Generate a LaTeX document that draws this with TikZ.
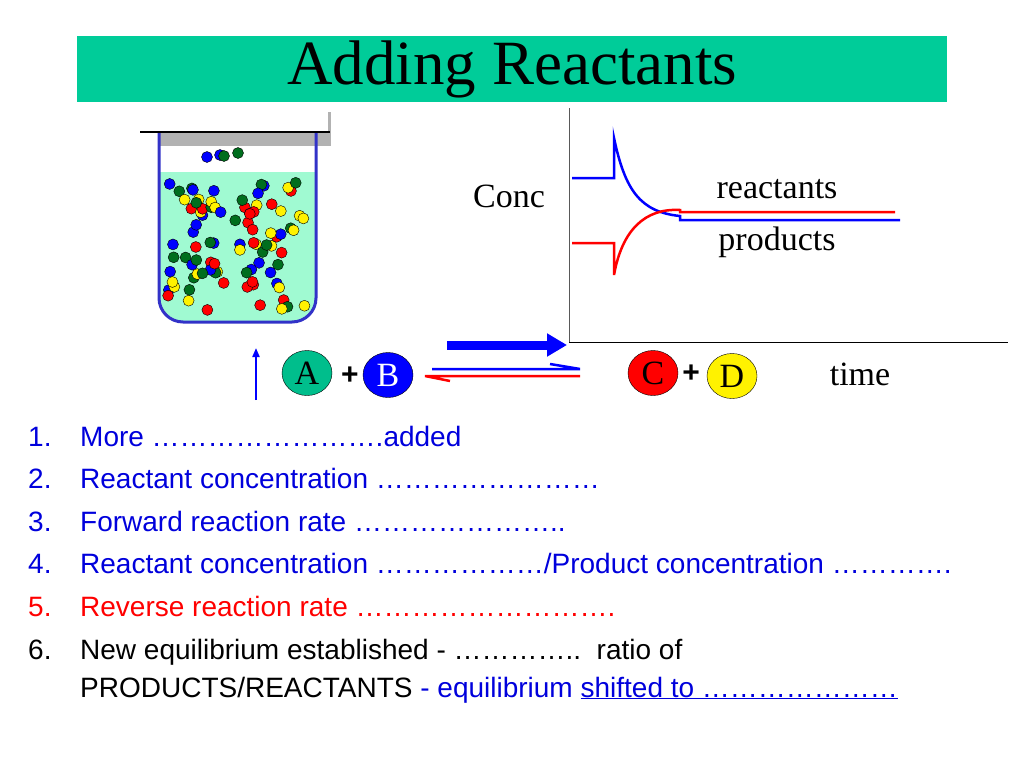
\documentclass[tikz,border=0pt]{standalone}
\usepackage{fontspec}
\setmainfont{Liberation Serif}
\newfontfamily\sans{Liberation Sans}
\usetikzlibrary{arrows.meta,shapes.geometric}
\definecolor{titlegreen}{RGB}{0,204,153}
\definecolor{liq}{RGB}{160,250,210}
\definecolor{bblue}{RGB}{50,50,200}
\definecolor{tblue}{RGB}{0,0,220}
\definecolor{dgreen}{RGB}{0,110,30}
\definecolor{agreen}{RGB}{0,190,140}
\tikzset{
  dot/.style={circle,draw=black,line width=0.4pt,inner sep=0pt,minimum size=11pt},
  item/.style={anchor=base west,font=\sans\fontsize{28}{32}\selectfont,text=tblue,inner sep=0pt},
  num/.style={anchor=base west,font=\sans\fontsize{28}{32}\selectfont,inner sep=0pt},
  mol/.style={ellipse,draw=black,inner sep=0pt,minimum width=50pt,minimum height=45pt,font=\fontsize{34}{36}\selectfont},
  lab/.style={font=\fontsize{34}{38}\selectfont,inner sep=0pt},
  plus/.style={font=\sans\bfseries\fontsize{30}{32}\selectfont}
}
\begin{document}
\begin{tikzpicture}[x=1pt,y=-1pt]
\useasboundingbox (0,0) rectangle (1024,768);
% title
\node[fill=titlegreen,minimum width=870pt,minimum height=66pt,inner sep=0pt,anchor=north west,
  font=\fontsize{63}{66}\selectfont] (title) at (77,36) {Adding Reactants};
% beaker
\fill[gray!60] (160,132) rectangle (330,146);
\draw[gray!60,line width=3pt] (329,112) -- (329,146);
\fill[liq] (159,172) rectangle (316,290);
\fill[liq,rounded corners=24pt] (159,250) rectangle (316,322);
\draw[bblue,line width=3pt,rounded corners=24pt] (159,132) -- (159,322) -- (316,322) -- (316,132);
\draw[black,line width=2.5pt] (140,132) -- (330,132);
\pgfmathsetseed{11}
\foreach \i in {1,...,90}{
  \pgfmathsetmacro\px{168+140*rnd}
  \pgfmathsetmacro\py{182+130*rnd}
  \pgfmathtruncatemacro\c{mod(\i,4)}
  \ifcase\c \def\col{blue}\or\def\col{red}\or\def\col{yellow}\or\def\col{dgreen}\fi
  \node[dot,fill=\col] (d\i) at (\px,\py) {};
}
\node[dot,fill=blue] (u1) at (207,157) {};
\node[dot,fill=blue] (u2) at (220,155) {};
\node[dot,fill=dgreen] (u3) at (224,156) {};
\node[dot,fill=dgreen] (u4) at (238,153) {};
% graph
\coordinate (o) at (569,342);
\coordinate (yt) at (569,108);
\coordinate (xr) at (1008,342);
\draw[gray!70!black,line width=1pt] (yt) -- (o);
\draw[black,line width=0.8pt] (o) -- (xr);
\node[lab] (conc) at (509,196) {Conc};
\node[lab] (rlab) at (777,189) {reactants};
\node[lab] (plab) at (777,242) {products};
\node[lab] (time) at (860,374) {time};
\draw[blue,line width=2.5pt] (572,178) -- (614,178) -- (614,138)
  .. controls (625,190) and (640,212) .. (680,216) -- (680,220) -- (900,220);
\draw[red,line width=2.5pt] (572,243) -- (614,243) -- (614,275)
  .. controls (622,230) and (645,208) .. (680,210) -- (680,212) -- (895,212);
% arrows
\coordinate (ba1) at (447,345);
\coordinate (ba2) at (567,345);
\draw[blue,line width=9pt,-{Triangle[length=20pt,width=22pt]}] (ba1) -- (ba2);
\coordinate (f1) at (432,369);
\coordinate (f2) at (580,369);
\draw[blue,line width=2.5pt] (f1) -- (f2) -- (550,364);
\coordinate (r1) at (425,376);
\coordinate (r2) at (580,376);
\draw[red,line width=2.5pt] (r2) -- (r1) -- (450,381);
\coordinate (up1) at (256,400);
\coordinate (up2) at (256,348);
\draw[blue,line width=2pt,-{Triangle[length=9pt,width=7pt]}] (up1) -- (up2);
\node[mol,fill=agreen] (A) at (307,373) {A};
\node[plus] (p1) at (350,376) {+};
\node[mol,fill=blue,text=white] (B) at (388,375) {B};
\node[mol,fill=red] (C) at (653,373) {C};
\node[plus] (p2) at (691,374) {+};
\node[mol,fill=yellow] (D) at (732,376) {D};
% list
\node[num,text=tblue] (n1) at (28,446) {1.};
\node[item] (t1) at (80,446) {More …………………….added};
\node[num,text=tblue] (n2) at (28,488) {2.};
\node[item] (t2) at (80,488) {Reactant concentration ……………………};
\node[num,text=tblue] (n3) at (28,531) {3.};
\node[item] (t3) at (80,531) {Forward reaction rate …………………..};
\node[num,text=tblue] (n4) at (28,573) {4.};
\node[item] (t4) at (80,573) {Reactant concentration ………………/Product concentration ………….};
\node[num,text=red] (n5) at (28,616) {5.};
\node[item,text=red] (t5) at (80,616) {Reverse reaction rate ……………………….};
\node[num] (n6) at (28,659) {6.};
\node[item,text=black] (t6) at (80,659) {New equilibrium established - …………..\ \ ratio of};
\node[item,text=black] (t7) at (80,697) {PRODUCTS/REACTANTS \textcolor{tblue}{- equilibrium \underline{shifted to …………………}}};
\end{tikzpicture}
\end{document}
